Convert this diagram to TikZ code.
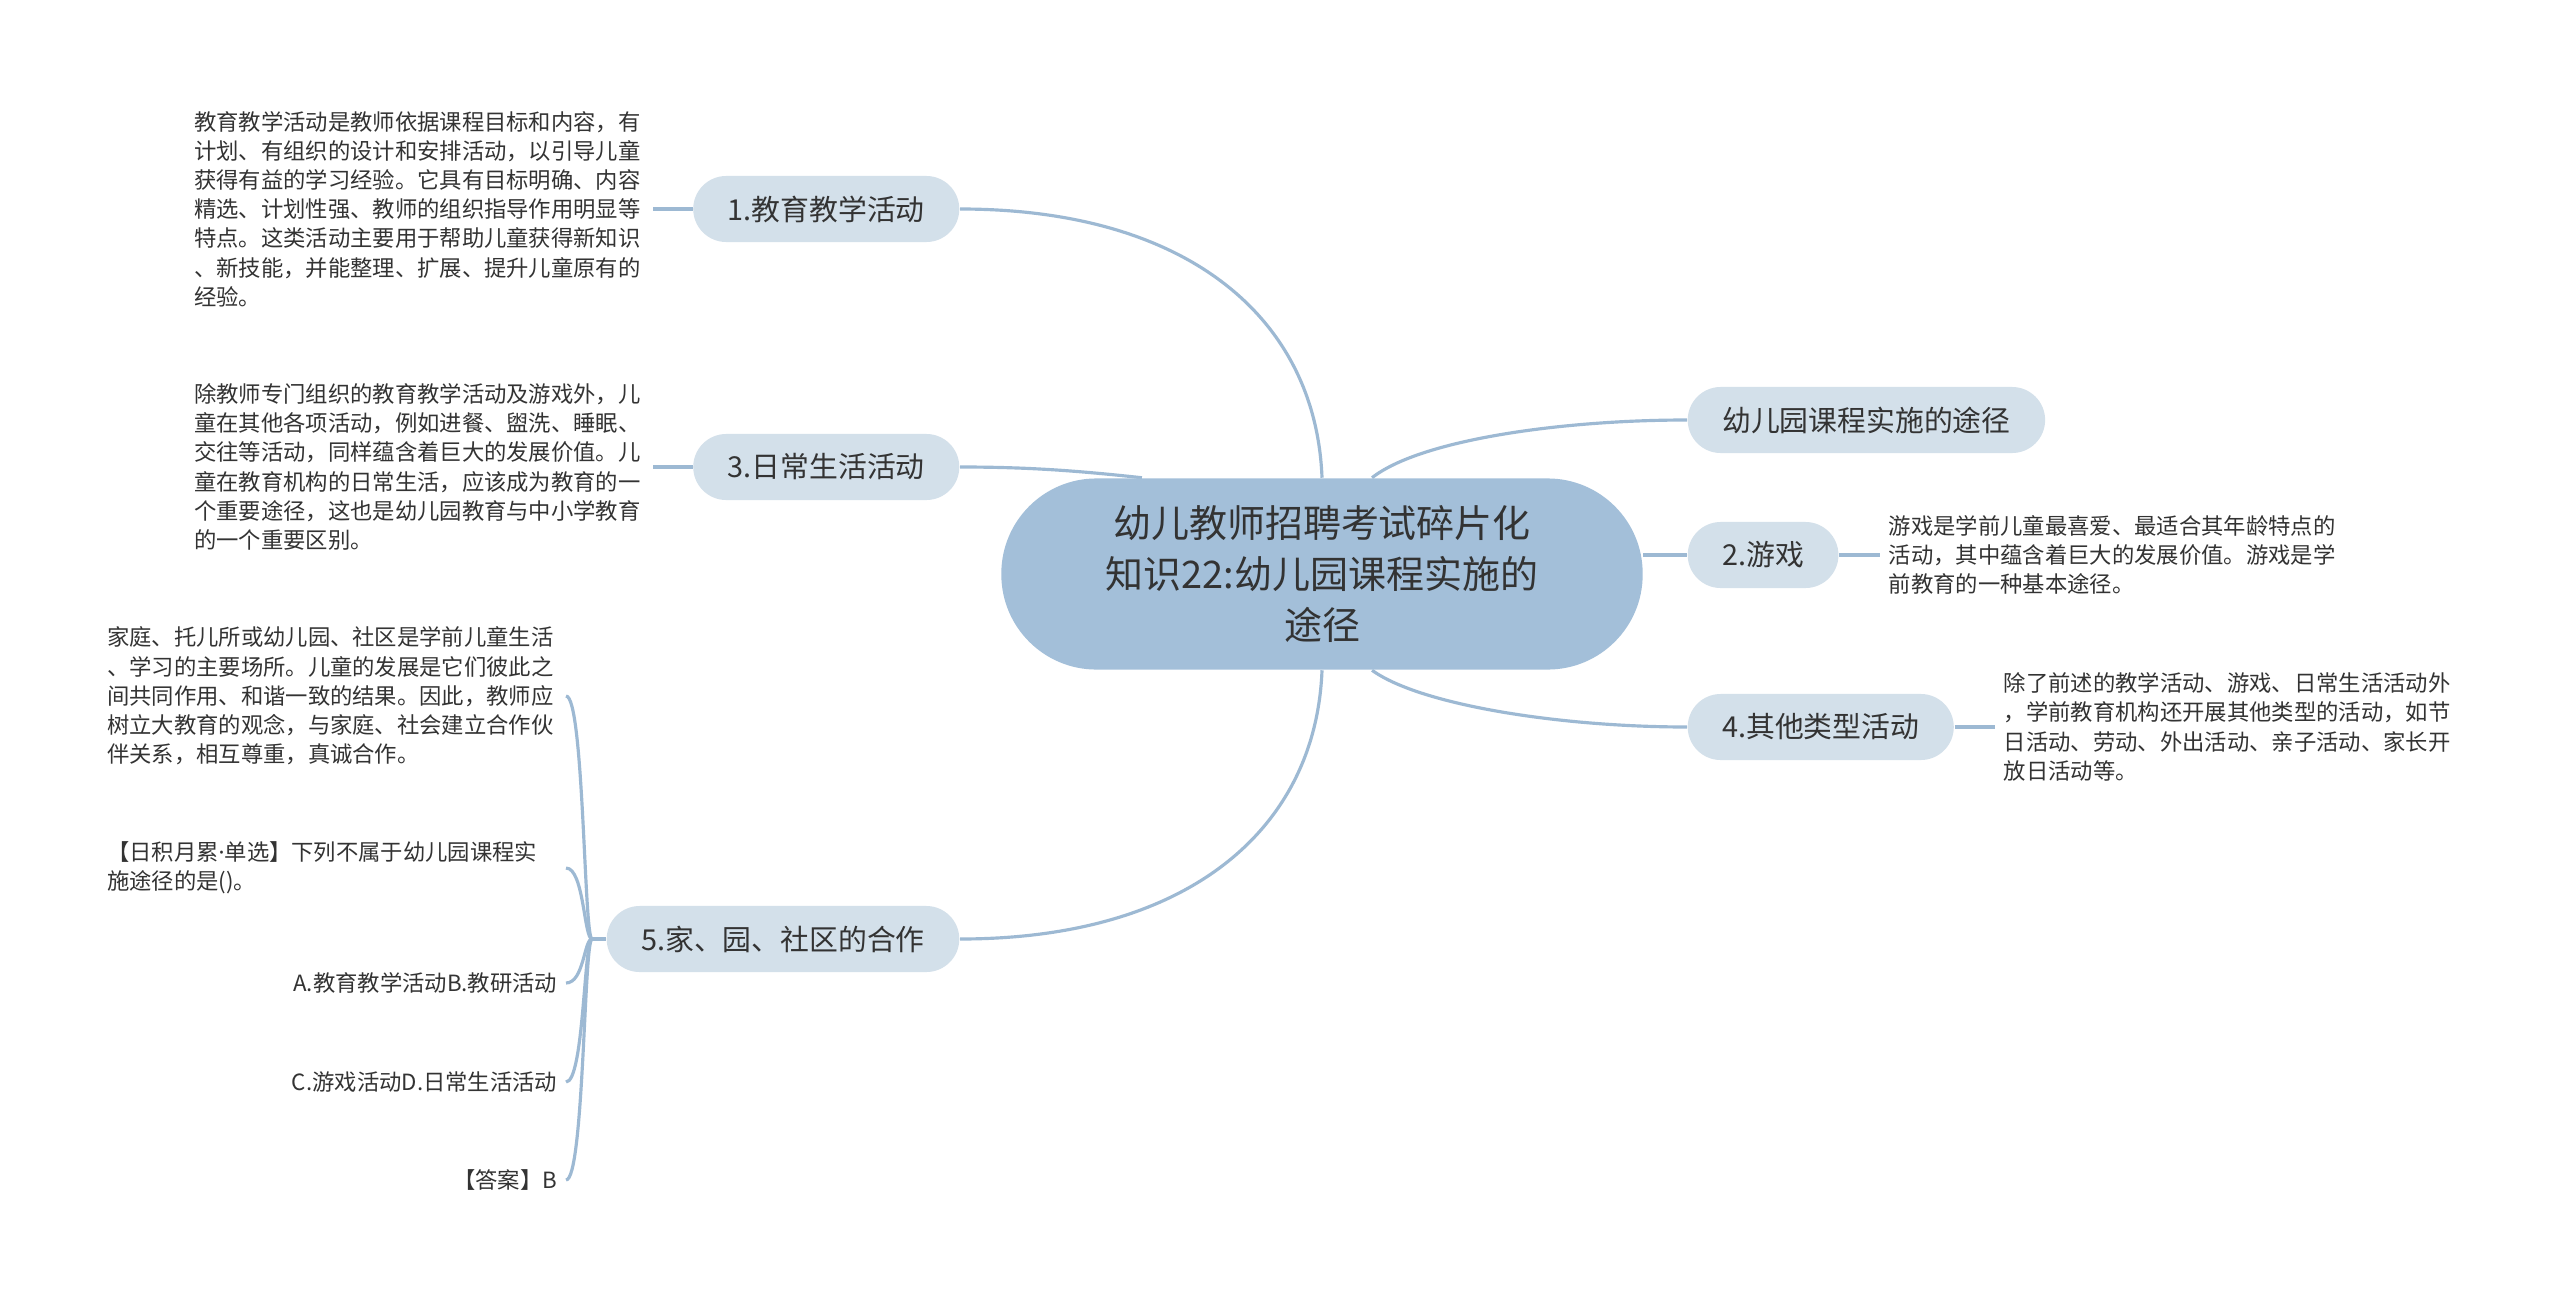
\documentclass[tikz,border=0pt]{standalone}
\usepackage{fontspec}
\setmainfont{Noto Sans CJK SC}
\newfontfamily\latinfont{Noto Sans}
\usepackage{xcolor}
\usetikzlibrary{backgrounds}
\definecolor{rootblue}{HTML}{A3BFD9}
\definecolor{topicblue}{HTML}{D3E0EA}
\definecolor{linkblue}{HTML}{9DB9D3}
\definecolor{ink}{HTML}{333333}

\begin{document}
\begin{tikzpicture}[x=0.01cm,y=-0.01cm,
root/.style={fill=rootblue,rounded corners=0.95cm,minimum width=6.41cm,minimum height=1.91cm,align=center,text=ink,font=\fontsize{10.8}{14.5}\selectfont},
topic/.style={fill=topicblue,rounded corners=0.33cm,minimum height=0.66cm,inner xsep=0.345cm,text=ink,font=\fontsize{8.2}{10}\selectfont},
leaf/.style={text width=4.5cm,align=left,inner xsep=0.08cm,inner ysep=0pt,text=ink,font=\fontsize{6.35}{8.3}\selectfont},
link/.style={draw=linkblue,line width=0.9pt}]
\useasboundingbox (0,0) rectangle (2560,1303);

\node[root] (root) at (1322,574) {幼儿教师招聘考试碎片化\\知识22:幼儿园课程实施的\\途径};
\node[topic,anchor=east] (t1) at (960,209) {1.教育教学活动};
\node[topic,anchor=east] (t3) at (960,467) {3.日常生活活动};
\node[topic,anchor=east] (t5) at (960,939) {5.家、园、社区的合作};
\node[topic,anchor=west] (t0) at (1687,420) {幼儿园课程实施的途径};
\node[topic,anchor=west] (t2) at (1687,555) {2.游戏};
\node[topic,anchor=west] (t4) at (1687,727) {4.其他类型活动};

\node[leaf,anchor=east] (l1) at (653,209) {教育教学活动是教师依据课程目标和内容，有\\计划、有组织的设计和安排活动，以引导儿童\\获得有益的学习经验。它具有目标明确、内容\\精选、计划性强、教师的组织指导作用明显等\\特点。这类活动主要用于帮助儿童获得新知识\\、新技能，并能整理、扩展、提升儿童原有的\\经验。};
\node[leaf,anchor=east] (l3) at (653,467) {除教师专门组织的教育教学活动及游戏外，儿\\童在其他各项活动，例如进餐、盥洗、睡眠、\\交往等活动，同样蕴含着巨大的发展价值。儿\\童在教育机构的日常生活，应该成为教育的一\\个重要途径，这也是幼儿园教育与中小学教育\\的一个重要区别。};
\node[leaf,anchor=west] (l2) at (1880,555) {游戏是学前儿童最喜爱、最适合其年龄特点的\\活动，其中蕴含着巨大的发展价值。游戏是学\\前教育的一种基本途径。};
\node[leaf,anchor=west] (l4) at (1995,727) {除了前述的教学活动、游戏、日常生活活动外\\，学前教育机构还开展其他类型的活动，如节\\日活动、劳动、外出活动、亲子活动、家长开\\放日活动等。};
\node[leaf,anchor=east] (l5a) at (566,696) {家庭、托儿所或幼儿园、社区是学前儿童生活\\、学习的主要场所。儿童的发展是它们彼此之\\间共同作用、和谐一致的结果。因此，教师应\\树立大教育的观念，与家庭、社会建立合作伙\\伴关系，相互尊重，真诚合作。};
\node[leaf,anchor=east] (l5b) at (566,868) {【日积月累{\latinfont ·}单选】下列不属于幼儿园课程实\\施途径的是()。};
\node[leaf,anchor=east,align=right] (l5c) at (566,983) {A.教育教学活动B.教研活动};
\node[leaf,anchor=east,align=right] (l5d) at (566,1082) {C.游戏活动D.日常生活活动};
\node[leaf,anchor=east,align=right] (l5e) at (566,1180) {【答案】B};

\begin{scope}[on background layer]
\fill[white] (0,0) rectangle (2560,1303);
\draw[link] (root.north) .. controls (1316,320) and (1190,209) .. (t1.east);
\draw[link] ([xshift=-1.8cm]root.north) .. controls (1080,471) and (1030,467) .. (t3.east);
\draw[link] (root.south) .. controls (1316,828) and (1190,939) .. (t5.east);
\draw[link] ([xshift=0.5cm]root.north) .. controls (1420,440) and (1560,420) .. (t0.west);
\draw[link] (root.east |- t2.west) -- (t2.west);
\draw[link] ([xshift=0.5cm]root.south) .. controls (1420,705) and (1560,727) .. (t4.west);
\draw[link] (l1) -- (t1);
\draw[link] (l3) -- (t3);
\draw[link] (t2) -- (l2);
\draw[link] (t4) -- (l4);
\coordinate (fork) at (592,939);
\coordinate (trunk) at (584,939);
\draw[link] (t5.west) -- (fork);
\foreach \c in {l5a,l5b,l5c,l5d,l5e}
  \draw[link] (fork) .. controls (trunk) and (trunk |- \c.east) .. (\c.east);
\end{scope}
\end{tikzpicture}
\end{document}
